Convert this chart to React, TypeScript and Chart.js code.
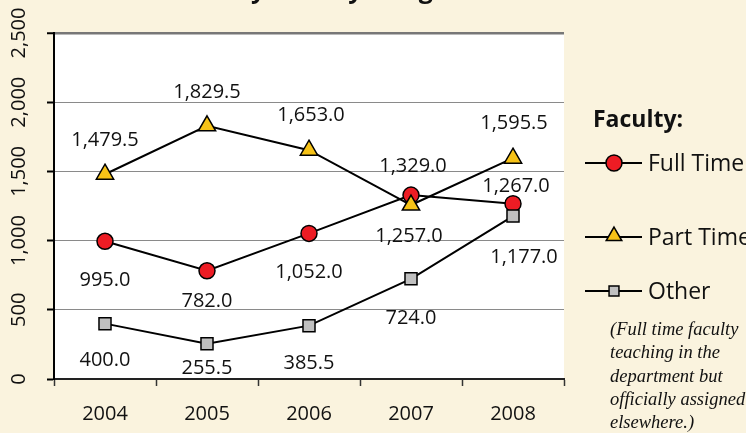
import React, { useEffect, useRef } from 'react';
import { Chart, registerables } from 'chart.js';

Chart.register(...registerables);

// ---- data ----
const years = ['2004', '2005', '2006', '2007', '2008'];
const fullTime = [995, 782, 1052, 1329, 1267];
const partTime = [1479.5, 1829.5, 1653, 1257, 1595.5];
const other = [400, 255.5, 385.5, 724, 1177];
const yTicks = [0, 500, 1000, 1500, 2000, 2500];
const seriesNames = ['Full Time', 'Part Time', 'Other'];
const titleText = 'By Faculty Assignment';
const legendTitle = 'Faculty:';
const noteLines = [
  '(Full time faculty',
  'teaching in the',
  'department but',
  'officially assigned',
  'elsewhere.)',
];

// ---- styles ----
const BG = '#FAF3DE';
const FONT = '"Open Sans", "Noto Sans", sans-serif';
const RED = '#ED1C24';
const YELLOW = '#F6C217';
const GRAY = '#C0C0C0';
// data label offsets (dx, dy) relative to each point
const labelOffsets: number[][][] = [
  [[0, 39], [0, 31], [0, 39], [2, -29], [3, -17]],
  [[0, -34], [0, -34], [2, -35], [-2, 31], [1, -35]],
  [[0, 37], [0, 25], [0, 38], [0, 39], [11, 41]],
];

const fmt = (v: number) =>
  v.toLocaleString('en-US', { minimumFractionDigits: 1, maximumFractionDigits: 1 });

function drawMarker(ctx: CanvasRenderingContext2D, style: string, x: number, y: number, r: number, fill: string) {
  ctx.save();
  ctx.fillStyle = fill;
  ctx.strokeStyle = '#000';
  ctx.lineWidth = 1.5;
  ctx.beginPath();
  if (style === 'circle') {
    ctx.arc(x, y, r, 0, Math.PI * 2);
  } else if (style === 'triangle') {
    ctx.moveTo(x, y - r);
    ctx.lineTo(x + r * Math.sin(Math.PI * 2 / 3), y - r * Math.cos(Math.PI * 2 / 3));
    ctx.lineTo(x + r * Math.sin(Math.PI * 4 / 3), y - r * Math.cos(Math.PI * 4 / 3));
    ctx.closePath();
  } else {
    const s = r * Math.SQRT1_2;
    ctx.rect(x - s, y - s, 2 * s, 2 * s);
  }
  ctx.fill();
  ctx.stroke();
  ctx.restore();
}

const decorPlugin = {
  id: 'decor',
  beforeDraw(chart: any) {
    const { ctx, chartArea: a } = chart;
    ctx.save();
    ctx.fillStyle = BG;
    ctx.fillRect(0, 0, chart.width, chart.height);
    ctx.fillStyle = '#FFFFFF';
    ctx.fillRect(a.left, a.top, a.right - a.left, a.bottom - a.top);
    ctx.restore();
  },
  afterDatasetsDraw(chart: any) {
    const { ctx } = chart;
    ctx.save();
    ctx.font = `20px ${FONT}`;
    ctx.fillStyle = '#111';
    ctx.textAlign = 'center';
    ctx.textBaseline = 'middle';
    chart.data.datasets.forEach((ds: any, di: number) => {
      const meta = chart.getDatasetMeta(di);
      meta.data.forEach((pt: any, i: number) => {
        const [dx, dy] = labelOffsets[di][i];
        ctx.fillText(fmt(ds.data[i]), pt.x + dx, pt.y + dy);
      });
    });
    ctx.restore();
  },
  afterDraw(chart: any) {
    const { ctx } = chart;
    const yScale = chart.scales.y;
    ctx.save();
    // y tick labels (rotated)
    ctx.font = `20px ${FONT}`;
    ctx.fillStyle = '#111';
    ctx.textAlign = 'center';
    ctx.textBaseline = 'middle';
    yTicks.forEach((v) => {
      const y = yScale.getPixelForValue(v);
      ctx.save();
      ctx.translate(19, y);
      ctx.rotate(-Math.PI / 2);
      ctx.fillText(v.toLocaleString('en-US'), 0, 0);
      ctx.restore();
    });
    // title (cut off at the top)
    ctx.font = `bold 25px ${FONT}`;
    ctx.textBaseline = 'alphabetic';
    ctx.fillStyle = '#111';
    ctx.fillText(titleText, 375, -2);

    // legend
    ctx.textAlign = 'left';
    ctx.font = `bold 23px ${FONT}`;
    ctx.fillText(legendTitle, 593, 127);
    const rows = [163, 237, 291];
    chart.data.datasets.forEach((ds: any, i: number) => {
      const y = rows[i];
      ctx.strokeStyle = '#000';
      ctx.lineWidth = 2;
      ctx.beginPath();
      ctx.moveTo(585, y);
      ctx.lineTo(642, y);
      ctx.stroke();
      const r = ds.pointStyle === 'triangle' ? 9 : ds.pointStyle === 'rect' ? 7 : 8;
      drawMarker(ctx, ds.pointStyle, 614, ds.pointStyle === 'triangle' ? y - 1 : y, r, ds.pointBackgroundColor);
      ctx.fillStyle = '#111';
      ctx.font = `23px ${FONT}`;
      ctx.textBaseline = 'middle';
      ctx.fillText(ds.label, 648, y + 1);
    });
    ctx.font = `italic 18.5px "Liberation Serif", "DejaVu Serif", serif`;
    ctx.textBaseline = 'alphabetic';
    const baselines = [335, 358, 382, 405, 428];
    noteLines.forEach((t, i) => ctx.fillText(t, 610, baselines[i]));
    ctx.restore();
  },
};

export default function App() {
  const ref = useRef<HTMLCanvasElement | null>(null);
  useEffect(() => {
    if (!ref.current) return;
    const chart = new Chart(ref.current, {
      type: 'line',
      data: {
        labels: years,
        datasets: [
          {
            label: seriesNames[0],
            data: fullTime,
            borderColor: '#000',
            borderWidth: 2,
            pointStyle: 'circle',
            pointRadius: 8,
            pointBackgroundColor: RED,
            pointBorderColor: '#000',
            pointBorderWidth: 1.5,
            order: 3,
          },
          {
            label: seriesNames[1],
            data: partTime,
            borderColor: '#000',
            borderWidth: 2,
            pointStyle: 'triangle',
            pointRadius: 10,
            pointBackgroundColor: YELLOW,
            pointBorderColor: '#000',
            pointBorderWidth: 1.5,
            order: 2,
          },
          {
            label: seriesNames[2],
            data: other,
            borderColor: '#000',
            borderWidth: 2,
            pointStyle: 'rect',
            pointRadius: 8.5,
            pointBackgroundColor: GRAY,
            pointBorderColor: '#000',
            pointBorderWidth: 1.5,
            order: 1,
          },
        ],
      },
      options: {
        animation: false,
        responsive: false,
        devicePixelRatio: 1,
        layout: { padding: { left: 0, top: 33, right: 182, bottom: 0 } },
        plugins: { legend: { display: false }, tooltip: { enabled: false } },
        scales: {
          x: {
            type: 'category',
            offset: true,
            grid: {
              offset: true,
              drawOnChartArea: false,
              drawTicks: true,
              tickLength: 7,
              tickColor: '#333',
              tickWidth: 1.5,
            },
            border: { color: '#222', width: 2 },
            ticks: {
              font: { family: FONT, size: 20 },
              color: '#111',
              padding: 16,
              maxRotation: 0,
            },
            afterFit: (s: any) => {
              s.height = 54;
            },
          },
          y: {
            min: 0,
            max: 2500,
            ticks: { stepSize: 500, display: false },
            grid: {
              color: (c: any) => (c.tick && c.tick.value === 2500 ? '#777' : '#8a8a8a'),
              lineWidth: (c: any) => (c.tick && c.tick.value === 2500 ? 2.5 : 1),
              tickLength: 7,
              tickColor: '#000',
              tickWidth: 2,
            },
            border: { color: '#000', width: 2 },
            afterFit: (s: any) => {
              s.width = 54;
            },
          },
        },
      },
      plugins: [decorPlugin],
    });
    return () => chart.destroy();
  }, []);
  return (
    <div style={{ position: 'fixed', left: 0, top: 0, width: 746, height: 433, background: BG }}>
      <canvas ref={ref} width={746} height={433} style={{ display: 'block', width: 746, height: 433 }} />
    </div>
  );
}
